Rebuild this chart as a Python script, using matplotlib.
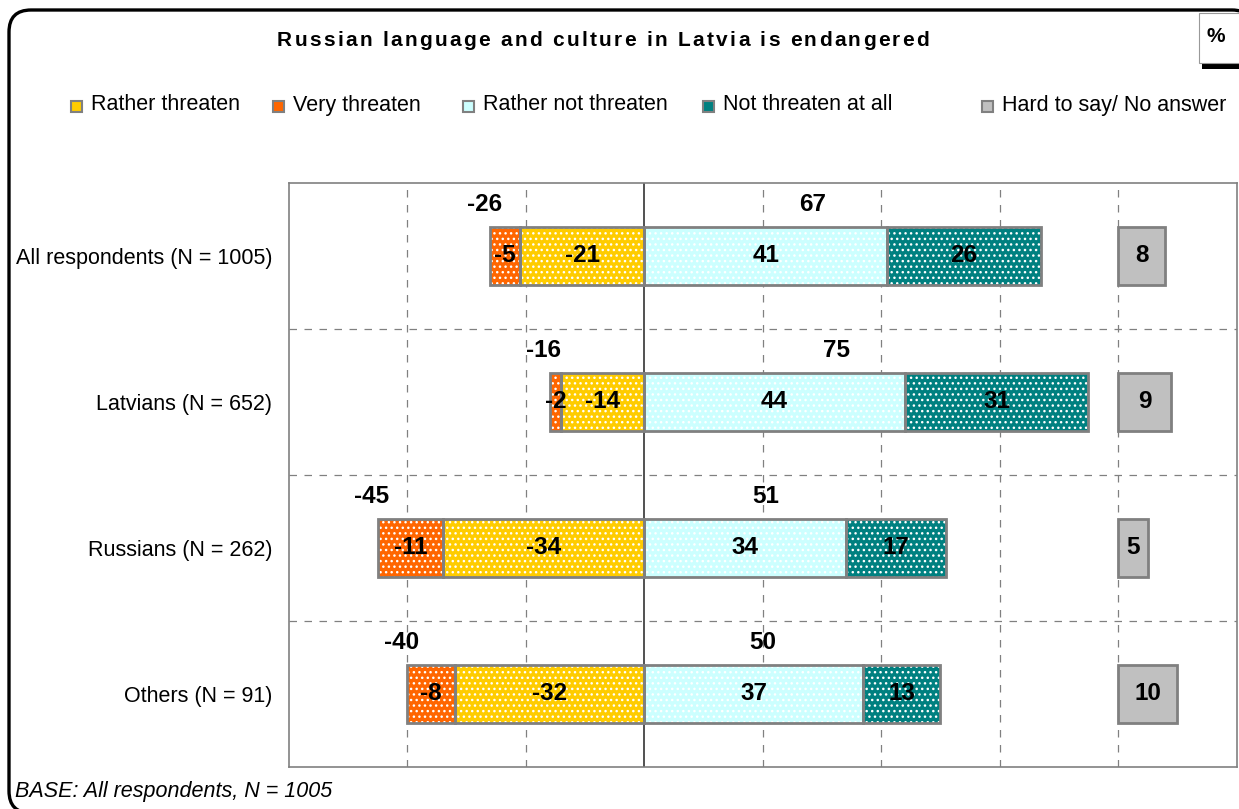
import numpy as np
import matplotlib.pyplot as plt
import matplotlib.transforms as mtransforms
from matplotlib import font_manager, ft2font
from matplotlib.font_manager import FontProperties
from matplotlib.patches import FancyBboxPatch, Rectangle

plt.rcParams['font.family'] = ['Liberation Sans', 'DejaVu Sans']
plt.rcParams['hatch.linewidth'] = 1.0

# survey data (%)
groups = ['All respondents (N = 1005)', 'Latvians (N = 652)',
          'Russians (N = 262)', 'Others (N = 91)']
rather_threaten = [-21, -14, -34, -32]
very_threaten = [-5, -2, -11, -8]
rather_not = [41, 44, 34, 37]
not_at_all = [26, 31, 17, 13]
hard_to_say = [8, 9, 5, 10]

legend_labels = ['Rather threaten', 'Very threaten', 'Rather not threaten',
                 'Not threaten at all', 'Hard to say/ No answer']
title = 'Russian language and culture in Latvia is endangered'

c_rather = '#FFCC00'
c_very = '#FF6600'
c_rnot = '#CCFFFF'
c_notall = '#008080'
c_hard = '#C0C0C0'
edge = '#808080'

W, H = 1239, 809
fig = plt.figure(figsize=(W / 100, H / 100), dpi=100)
px = mtransforms.IdentityTransform()

# outer rounded frame
frame = FancyBboxPatch((9, -4), 1245, H - 10 + 4, boxstyle='round,pad=0,rounding_size=22',
                       transform=px, facecolor='white', edgecolor='black', linewidth=2.4, zorder=0)
fig.patches.append(frame)

# "%" box in the corner
fig.patches.append(Rectangle((1202, H - 69), 50, 52, transform=px, facecolor='black',
                             edgecolor='none', zorder=1))
fig.patches.append(Rectangle((1198.5, H - 63), 50, 50, transform=px, facecolor='white',
                             edgecolor='#999999', linewidth=0.8, zorder=2))
fig.text(1216 / W, 1 - 37 / H, '%', ha='center', va='center', fontsize=15,
         fontweight='bold', zorder=3)

# title drawn letter by letter with extra tracking
tsize = 15
tprop = FontProperties(family='Liberation Sans', weight='bold', size=tsize)
tfont = ft2font.FT2Font(font_manager.findfont(tprop))
tfont.set_size(tsize, 100)
track = 2.3
adv = [tfont.load_char(ord(ch)).linearHoriAdvance / 65536 for ch in title]
total_w = sum(adv) + track * (len(title) - 1)
tx = 603 - total_w / 2
for ch, a in zip(title, adv):
    fig.text(tx / W, 1 - 40 / H, ch, ha='left', va='center', fontproperties=tprop)
    tx += a + track

ax = fig.add_axes([289 / W, 1 - 767 / H, (1236.5 - 289) / W, (767 - 183) / H])
ax.set_zorder(2)
ax.patch.set_alpha(0)

y = np.arange(len(groups))
h = 0.40


def seg(left, width, color, hatch='...'):
    ax.barh(y, width, h, left=left, color=color, hatch=hatch, edgecolor='white',
            linewidth=0, zorder=3)
    ax.barh(y, width, h, left=left, fill=False, edgecolor=edge, linewidth=2, zorder=4)


rt = np.array(rather_threaten)
vt = np.array(very_threaten)
rn = np.array(rather_not)
na = np.array(not_at_all)
hs = np.array(hard_to_say)

seg(0, rt, c_rather)
seg(rt, vt, c_very)
seg(0, rn, c_rnot)
seg(rn, na, c_notall)
seg(80, hs, c_hard, hatch=None)

lab = dict(ha='center', va='center', fontsize=17.5, fontweight='bold', zorder=5)
for i in range(len(groups)):
    ax.text(rt[i] / 2, y[i], f'{rt[i]}', **lab)
    ax.text(rt[i] + vt[i] / 2, y[i], f'{vt[i]}', **lab)
    ax.text(rn[i] / 2, y[i], f'{rn[i]}', **lab)
    ax.text(rn[i] + na[i] / 2, y[i], f'{na[i]}', **lab)
    ax.text(80 + hs[i] / 2, y[i], f'{hs[i]}', **lab)
    neg = rt[i] + vt[i]
    pos = rn[i] + na[i]
    ax.text(neg - 1, y[i] - 0.35, f'{neg}', **lab)
    ax.text(pos / 2 - 5, y[i] - 0.35, f'{pos}', **lab)

ax.set_xlim(-60, 100)
ax.set_ylim(3.5, -0.5)
for xv in range(-40, 100, 20):
    if xv == 0:
        ax.axvline(0, color='#333333', linewidth=1.2, zorder=2)
    else:
        ax.axvline(xv, color=edge, linewidth=0.9, linestyle=(0, (6, 6)), zorder=1)
for yv in [0.5, 1.5, 2.5]:
    ax.axhline(yv, color=edge, linewidth=0.9, linestyle=(0, (6, 6)), zorder=1)

ax.set_xticks([])
ax.set_yticks(y)
ax.set_yticklabels(groups, fontsize=15.5)
ax.tick_params(axis='y', length=0, pad=12)
for s in ax.spines.values():
    s.set_color(edge)
    s.set_linewidth(1.2)

# legend row
leg_x = [71, 273, 463, 703, 982]
leg_colors = [c_rather, c_very, c_rnot, c_notall, c_hard]
for lx, lt, lc in zip(leg_x, legend_labels, leg_colors):
    fig.patches.append(Rectangle((lx, H - 112), 11, 11, transform=px, facecolor=lc,
                                 edgecolor=edge, linewidth=1.5, zorder=3))
    fig.text((lx + 20) / W, 1 - 105 / H, lt, ha='left', va='center', fontsize=15.5)

fig.text(15 / W, 1 - 792 / H, 'BASE: All respondents, N = 1005', ha='left', va='center',
         fontsize=15.5, style='italic')

fig.savefig('out.png', dpi=100)
